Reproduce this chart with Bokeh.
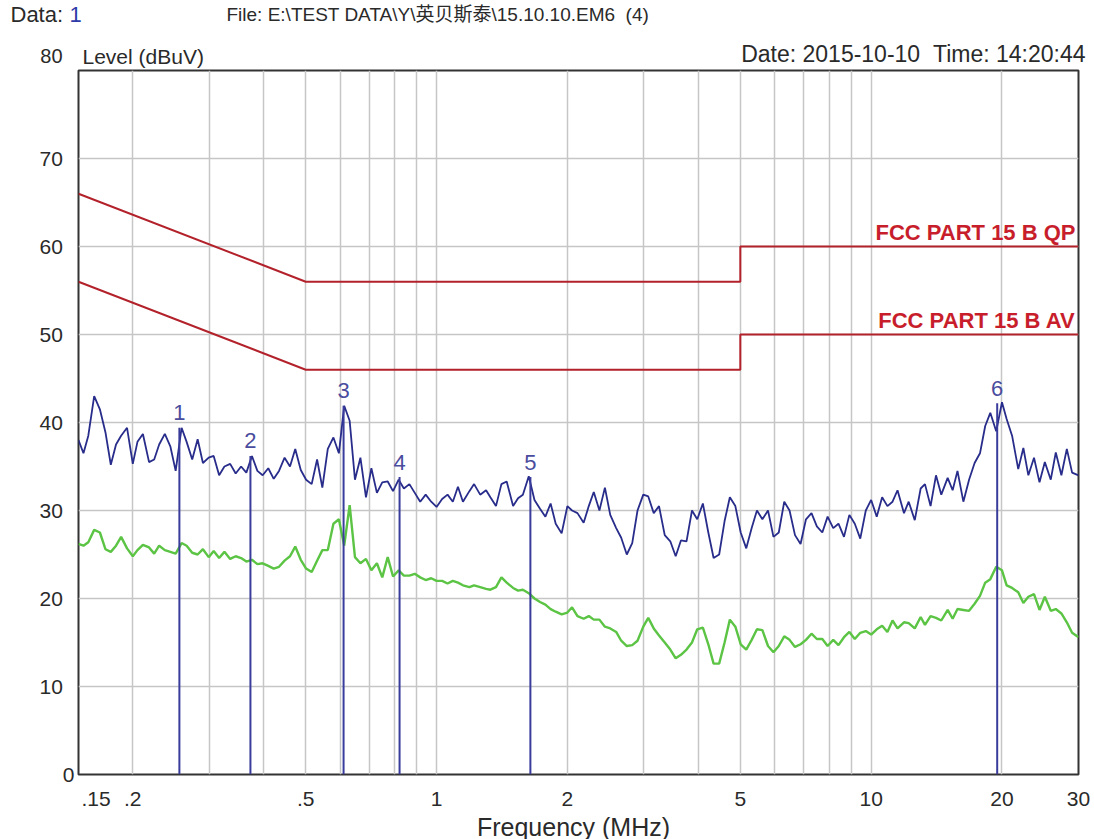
from bokeh.plotting import figure
from bokeh.layouts import column
from bokeh.models import FixedTicker, CustomJSTickFormatter, Range1d, ColumnDataSource
from bokeh.embed import file_html
from bokeh.resources import INLINE
from bokeh.core.properties import value

# ---------------- data ----------------
freq_mhz = [
    0.150, 0.154, 0.158, 0.163, 0.168, 0.173, 0.178, 0.183, 0.188, 0.194,
    0.200, 0.205, 0.211, 0.218, 0.224, 0.230, 0.237, 0.244, 0.251, 0.259,
    0.266, 0.274, 0.282, 0.290, 0.299, 0.307, 0.316, 0.325, 0.335, 0.345,
    0.355, 0.365, 0.376, 0.387, 0.398, 0.410, 0.422, 0.434, 0.447, 0.460,
    0.473, 0.487, 0.501, 0.516, 0.531, 0.546, 0.562, 0.579, 0.596, 0.613,
    0.631, 0.649, 0.668, 0.688, 0.708, 0.729, 0.750, 0.772, 0.794, 0.818,
    0.841, 0.866, 0.891, 0.917, 0.944, 0.972, 1.00, 1.03, 1.06, 1.09,
    1.12, 1.15, 1.19, 1.22, 1.26, 1.30, 1.33, 1.37, 1.41, 1.45,
    1.50, 1.54, 1.58, 1.63, 1.68, 1.73, 1.78, 1.83, 1.88, 1.94,
    2.00, 2.05, 2.11, 2.18, 2.24, 2.30, 2.37, 2.44, 2.51, 2.59,
    2.66, 2.74, 2.82, 2.90, 2.99, 3.07, 3.16, 3.25, 3.35, 3.45,
    3.55, 3.65, 3.76, 3.87, 3.98, 4.10, 4.22, 4.34, 4.47, 4.60,
    4.73, 4.87, 5.01, 5.16, 5.31, 5.46, 5.62, 5.79, 5.96, 6.13,
    6.31, 6.49, 6.68, 6.88, 7.08, 7.29, 7.50, 7.72, 7.94, 8.18,
    8.41, 8.66, 8.91, 9.17, 9.44, 9.72, 10.0, 10.3, 10.6, 10.9,
    11.2, 11.5, 11.9, 12.2, 12.6, 13.0, 13.3, 13.7, 14.1, 14.5,
    15.0, 15.4, 15.8, 16.3, 16.8, 17.3, 17.8, 18.3, 18.8, 19.4,
    20.0, 20.5, 21.1, 21.8, 22.4, 23.0, 23.7, 24.4, 25.1, 25.9,
    26.6, 27.4, 28.2, 29.0, 30.0,
]

peak_dbuv = [
    38.0, 36.5, 38.5, 43.0, 41.5, 38.9, 35.2, 37.5, 38.5, 39.4,
    35.3, 37.8, 38.7, 35.5, 35.8, 37.5, 38.7, 37.3, 34.5, 39.4,
    37.8, 35.8, 38.1, 35.4, 36.0, 36.2, 34.0, 35.0, 35.3, 34.2,
    35.0, 34.3, 36.2, 34.5, 34.0, 34.8, 33.6, 34.5, 36.0, 35.0,
    37.0, 34.6, 33.5, 33.0, 35.8, 32.6, 37.0, 38.3, 36.5, 41.9,
    40.2, 33.5, 36.0, 31.5, 34.8, 32.0, 33.2, 33.3, 32.2, 33.5,
    32.5, 33.0, 32.0, 31.0, 31.8, 31.0, 30.4, 31.3, 31.8, 31.0,
    32.7, 31.0, 32.2, 33.0, 31.8, 32.3, 31.5, 30.5, 33.0, 33.3,
    30.5, 31.4, 31.8, 33.9, 31.2, 30.2, 29.3, 30.8, 28.5, 27.4,
    30.5, 30.0, 29.7, 28.6, 30.5, 32.1, 30.0, 32.6, 29.5, 28.0,
    26.9, 25.0, 26.3, 30.0, 31.8, 31.6, 29.7, 30.5, 27.2, 26.5,
    24.8, 26.6, 26.5, 30.0, 29.0, 30.8, 27.5, 24.6, 25.0, 28.8,
    31.5, 30.5, 27.5, 25.7, 28.0, 30.0, 29.0, 30.0, 27.0, 27.5,
    31.0, 30.0, 27.2, 26.2, 29.0, 29.7, 28.2, 27.5, 29.3, 28.0,
    28.5, 27.0, 29.5, 28.5, 26.8, 30.0, 31.2, 29.3, 31.5, 30.5,
    31.0, 32.3, 29.7, 31.0, 28.9, 32.5, 33.0, 30.5, 34.0, 31.8,
    33.7, 32.3, 34.5, 31.0, 33.5, 35.4, 36.5, 39.6, 41.1, 39.0,
    42.3, 40.4, 38.5, 34.7, 37.1, 34.0, 36.0, 33.2, 35.5, 33.5,
    36.6, 34.0, 37.0, 34.3, 34.0,
]

avg_dbuv = [
    26.2, 26.0, 26.4, 27.8, 27.5, 25.6, 25.3, 26.0, 27.0, 25.7,
    24.8, 25.5, 26.1, 25.8, 25.1, 26.0, 25.5, 25.3, 25.1, 26.3,
    26.0, 25.2, 25.0, 25.6, 24.7, 25.4, 24.6, 25.3, 24.5, 24.8,
    24.6, 24.2, 24.4, 23.9, 24.0, 23.7, 23.4, 23.6, 24.3, 24.8,
    25.9, 24.4, 23.4, 23.0, 24.3, 25.5, 25.5, 28.5, 29.0, 26.0,
    30.6, 24.7, 24.0, 24.5, 23.2, 24.0, 22.4, 24.7, 22.5, 23.2,
    22.6, 22.6, 22.8, 22.4, 22.1, 22.3, 22.0, 22.0, 21.7, 22.0,
    21.8, 21.5, 21.3, 21.5, 21.3, 21.1, 21.0, 21.3, 22.4, 21.8,
    21.2, 20.9, 21.0, 20.6, 20.0, 19.6, 19.3, 18.8, 18.5, 18.2,
    18.4, 19.0, 18.0, 17.7, 18.0, 17.6, 17.6, 16.8, 16.6, 16.2,
    15.2, 14.6, 14.7, 15.2, 16.8, 17.8, 16.6, 15.8, 15.0, 14.2,
    13.2, 13.6, 14.2, 15.0, 16.5, 16.7, 14.8, 12.6, 12.6, 15.0,
    17.6, 16.8, 14.8, 14.2, 15.3, 16.5, 16.4, 14.6, 13.9, 14.6,
    15.7, 15.3, 14.5, 14.8, 15.3, 16.0, 15.4, 15.4, 14.6, 15.3,
    14.7, 15.6, 16.2, 15.4, 16.1, 16.3, 15.9, 16.5, 16.9, 16.2,
    17.5, 16.6, 17.3, 17.2, 16.6, 17.9, 17.0, 18.0, 17.8, 17.5,
    18.7, 17.7, 18.8, 18.7, 18.6, 19.4, 20.3, 21.8, 22.2, 23.6,
    23.2, 21.5, 21.2, 20.7, 19.5, 20.2, 20.5, 18.7, 20.2, 18.6,
    18.8, 18.3, 17.3, 16.1, 15.6,
]

qp_limit_freq = [0.15, 0.5, 5, 5, 30]
qp_limit_level = [66, 56, 56, 60, 60]
av_limit_freq = [0.15, 0.5, 5, 5, 30]
av_limit_level = [56, 46, 46, 50, 50]
qp_limit_name = "FCC PART 15 B QP"
av_limit_name = "FCC PART 15 B AV"

marker_ids = ["1", "2", "3", "4", "5", "6"]
marker_freq = [0.256, 0.373, 0.611, 0.822, 1.644, 19.5]
marker_level = [39.4, 36.2, 41.9, 33.8, 33.8, 42.2]

x_tick_values = [0.15, 0.2, 0.5, 1, 2, 5, 10, 20, 30]
x_grid_values = [0.2, 0.3, 0.4, 0.5, 0.6, 0.7, 0.8, 0.9, 1, 2, 3, 4, 5, 6, 7, 8, 9, 10, 20, 30]
y_tick_values = [0, 10, 20, 30, 40, 50, 60, 70]
y_grid_values = [10, 20, 30, 40, 50, 60, 70]
y_top_label = "80"

header_data = "Data:"
header_data_no = "1"
header_file = "File: E:\\TEST DATA\\Y\\英贝斯泰\\15.10.10.EM6\u00a0\u00a0(4)"
header_date = "Date: 2015-10-10\u00a0\u00a0Time: 14:20:44"
y_title = "Level (dBuV)"
x_title = "Frequency (MHz)"

# ---------------- styling ----------------
FONT = "Liberation Sans"
TXT = "#2a2a2a"
W = 1094
HEAD_H = 68
FOOT_H = 27
MAIN_H = 839 - HEAD_H - FOOT_H


def text_strip(height):
    f = figure(width=W, height=height, x_range=Range1d(0, W), y_range=Range1d(height, 0),
               output_backend="svg", toolbar_location=None,
               x_axis_location=None, y_axis_location=None,
               min_border_left=0, min_border_right=0, min_border_top=0, min_border_bottom=0)
    f.frame_align = False
    f.grid.visible = False
    f.outline_line_color = None
    f.background_fill_color = "white"
    f.border_fill_color = "white"
    return f


def put(f, x, y, s, size, align="left", color=TXT, style="normal"):
    f.text(x=[x], y=[y], text=[s], text_align=align, text_baseline="middle",
           text_font=value(FONT + ", Noto Sans CJK SC"), text_font_size=size,
           text_color=color, text_font_style=style)


# header strip (texts above the plot frame)
head = text_strip(HEAD_H)
put(head, 10, 14, header_data, "22px")
put(head, 69, 14, header_data_no, "22px", color="#2d3aa8")
put(head, 226, 14, header_file, "19px")
put(head, 1085, 53, header_date, "23px", align="right")
put(head, 82, 56, y_title, "21px")
put(head, 62, 55, y_top_label, "20px", align="right")

# main plot
p = figure(width=W, height=MAIN_H, x_axis_type="log",
           x_range=Range1d(0.15, 30), y_range=Range1d(0, 80),
           output_backend="svg", toolbar_location=None,
           min_border_left=78, min_border_right=16, min_border_top=2, min_border_bottom=37)
p.frame_align = False
p.background_fill_color = "white"
p.border_fill_color = "white"
p.outline_line_color = "#333333"
p.outline_line_width = 2

p.xgrid.ticker = FixedTicker(ticks=x_grid_values)
p.ygrid.ticker = FixedTicker(ticks=y_grid_values)
for g in (p.xgrid, p.ygrid):
    g.grid_line_color = "#c6c6c6"
    g.grid_line_width = 1.5

p.xaxis.ticker = FixedTicker(ticks=x_tick_values)
p.xaxis.formatter = CustomJSTickFormatter(code="""
    if (Math.abs(tick - 0.15) < 1e-9) return '\u2007\u2007\u2007.15';
    return tick < 1 ? String(tick).replace(/^0/, '') : String(tick);
""")
p.yaxis.ticker = FixedTicker(ticks=y_tick_values)
p.yaxis.formatter = CustomJSTickFormatter(code="""
    return tick == 0 ? '0' : String(tick) + '\u2007';
""")
for ax in (p.xaxis, p.yaxis):
    ax.axis_line_color = None
    ax.major_tick_line_color = None
    ax.minor_tick_line_color = None
    ax.major_tick_out = 0
    ax.major_tick_in = 0
    ax.major_label_text_font = FONT
    ax.major_label_text_font_size = "21px"
    ax.major_label_text_color = TXT
p.xaxis.major_label_standoff = 12
p.yaxis.major_label_standoff = 4

# limit lines
LIM = "#b3222b"
p.line(qp_limit_freq, qp_limit_level, line_color=LIM, line_width=2)
p.line(av_limit_freq, av_limit_level, line_color=LIM, line_width=2)
p.text(x=[qp_limit_freq[-1], av_limit_freq[-1]], y=[qp_limit_level[-1], av_limit_level[-1]],
       text=[qp_limit_name, av_limit_name], text_align="right", text_baseline="middle",
       x_offset=-3, y_offset=-14, text_font=value(FONT), text_font_style="bold",
       text_font_size="22px", text_color="#c81e2c")

# traces
p.line(freq_mhz, avg_dbuv, line_color="#5cc444", line_width=2.4)
p.line(freq_mhz, peak_dbuv, line_color="#282c8a", line_width=1.8)

# markers
msrc = ColumnDataSource(dict(f=marker_freq, lv=marker_level, t=marker_ids))
p.segment(x0="f", y0=0, x1="f", y1="lv", source=msrc, line_color="#3a3c9c", line_width=2)
p.text(x="f", y="lv", text="t", source=msrc, text_align="center", text_baseline="middle",
       y_offset=-15, text_font=value(FONT), text_font_size="22px", text_color="#4a4c9e")

# footer strip (x axis title)
foot = text_strip(FOOT_H)
put(foot, 573, 14, x_title, "25px", align="center")

layout = column(head, p, foot, spacing=0)
open("out.html", "w").write(file_html(layout, INLINE))
